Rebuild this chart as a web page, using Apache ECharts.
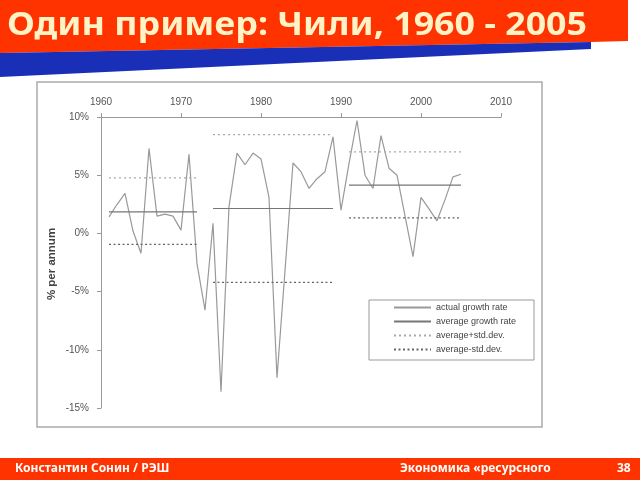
<!DOCTYPE html>
<html><head><meta charset="utf-8">
<script src="https://cdn.jsdelivr.net/npm/echarts@6/dist/echarts.min.js"></script>
<style>html,body{margin:0;padding:0;background:#fff;}#c{width:640px;height:480px;}</style>
</head><body><div id="c"></div>
<script>
// ---- data ----
const years = [1961,1962,1963,1964,1965,1966,1967,1968,1969,1970,1971,1972,1973,1974,1975,1976,1977,1978,1979,1980,1981,1982,1983,1984,1985,1986,1987,1988,1989,1990,1991,1992,1993,1994,1995,1996,1997,1998,1999,2000,2001,2002,2003,2004,2005];
const growth = [1.42,2.48,3.43,0.2,-1.7,7.3,1.48,1.65,1.48,0.28,6.8,-2.6,-6.6,0.86,-13.6,2.3,6.9,5.9,6.9,6.4,3.1,-12.4,-3.2,6.05,5.3,3.86,4.7,5.3,8.3,2.0,6.0,9.7,5.0,3.86,8.4,5.6,5.0,1.5,-2.0,3.1,2.1,1.08,2.9,4.86,5.08];
const periodStart = [1961,1974,1991];
const periodEnd = [1972,1989,2005];
const periodAvg = [1.85,2.14,4.14];
const periodPlus = [4.77,8.49,7.0];
const periodMinus = [-0.94,-4.21,1.34];
const seriesNames = ['actual growth rate','average growth rate','average+std.dev.','average-std.dev.'];
const xTicks = {min:1960, max:2010, step:10};
const yTicks = {min:-15, max:10, step:5};
const titleText = 'Один пример: Чили, 1960 - 2005';
const footerLeft = 'Константин Сонин / РЭШ';
const footerMid = 'Экономика «ресурсного';
const pageNum = '38';
const yAxisTitle = '% per annum';

function segs(vals){
  const out=[];
  for(let i=0;i<vals.length;i++){
    out.push([periodStart[i],vals[i]]);
    out.push([periodEnd[i],vals[i]]);
    if(i<vals.length-1) out.push([periodEnd[i]+1,'-']);
  }
  return out;
}

const chart = echarts.init(document.getElementById('c'), null, {renderer:'canvas'});
const F = 'Liberation Sans, Arial, sans-serif';
const option = {
  animation:false,
  backgroundColor:'#fff',
  grid:{left:101, right:139, top:117, bottom:72, containLabel:false},
  xAxis:{type:'value', position:'top', min:xTicks.min, max:xTicks.max, interval:xTicks.step,
    axisLine:{onZero:false, lineStyle:{color:'#999', width:1}},
    axisTick:{show:true, length:4, lineStyle:{color:'#999'}},
    axisLabel:{formatter:v=>String(v), color:'#555', fontSize:10, fontFamily:F, margin:10},
    splitLine:{show:false}},
  yAxis:{type:'value', min:yTicks.min, max:yTicks.max, interval:yTicks.step,
    axisLine:{show:true, onZero:false, lineStyle:{color:'#999', width:1}},
    axisTick:{show:true, length:4, lineStyle:{color:'#999'}},
    axisLabel:{formatter:v=>v+'%', color:'#555', fontSize:10, fontFamily:F, margin:12},
    splitLine:{show:false}},
  legend:{orient:'vertical', left:388, top:298, itemWidth:37, itemHeight:10, itemGap:5,
    data:seriesNames, itemStyle:{opacity:0}, textStyle:{fontSize:9, color:'#444', fontFamily:F}, selectedMode:false},
  series:[
    {name:seriesNames[0], type:'line', data:years.map((y,i)=>[y,growth[i]]), symbol:'none',
      lineStyle:{color:'#999', width:1.2}, itemStyle:{color:'#999'}},
    {name:seriesNames[1], type:'line', data:segs(periodAvg), symbol:'none', connectNulls:false,
      lineStyle:{color:'#777', width:1.2}, itemStyle:{color:'#777'}},
    {name:seriesNames[2], type:'line', data:segs(periodPlus), symbol:'none', connectNulls:false,
      lineStyle:{color:'#aaa', width:1.2, type:[2,3]}, itemStyle:{color:'#aaa'}},
    {name:seriesNames[3], type:'line', data:segs(periodMinus), symbol:'none', connectNulls:false,
      lineStyle:{color:'#666', width:1.3, type:[2,2.5]}, itemStyle:{color:'#666'}}
  ],
  graphic:[
    {type:'polygon', z:-1, shape:{points:[[0,0],[628,0],[628,41],[591,42],[0,53]]}, style:{fill:'#FF3300'}},
    {type:'polygon', z:-1, shape:{points:[[0,53],[591,42],[591,49],[0,77]]}, style:{fill:'#1A2FB8'}},
    {type:'text', x:7, y:26, scaleX:1.085, style:{text:titleText, fill:'#FFF3C6', font:'bold 33px "Noto Sans", "Open Sans", sans-serif', textVerticalAlign:'middle'}},
    {type:'rect', z:-1, shape:{x:37, y:82, width:505, height:345}, style:{fill:'none', stroke:'#aaa', lineWidth:1.5}},
    {type:'rect', z:-1, shape:{x:369, y:300, width:165, height:60}, style:{fill:'#fff', stroke:'#999', lineWidth:1}},
    {type:'text', x:52, y:264, rotation:Math.PI/2, style:{text:yAxisTitle, fill:'#444', font:'bold 11.5px "Liberation Sans", Arial, sans-serif', textAlign:'center', textVerticalAlign:'middle'}},
    {type:'rect', z:-1, shape:{x:0, y:458, width:640, height:22}, style:{fill:'#FF3300'}},
    {type:'text', x:15, y:469, style:{text:footerLeft, fill:'#fff', font:'bold 12px "Noto Sans", sans-serif', textVerticalAlign:'middle'}},
    {type:'text', x:400, y:469, style:{text:footerMid, fill:'#fff', font:'bold 12px "Noto Sans", sans-serif', textVerticalAlign:'middle'}},
    {type:'text', x:617, y:469, style:{text:pageNum, fill:'#fff', font:'bold 12px "Noto Sans", sans-serif', textVerticalAlign:'middle'}}
  ]
};
chart.setOption(option);
</script></body></html>
